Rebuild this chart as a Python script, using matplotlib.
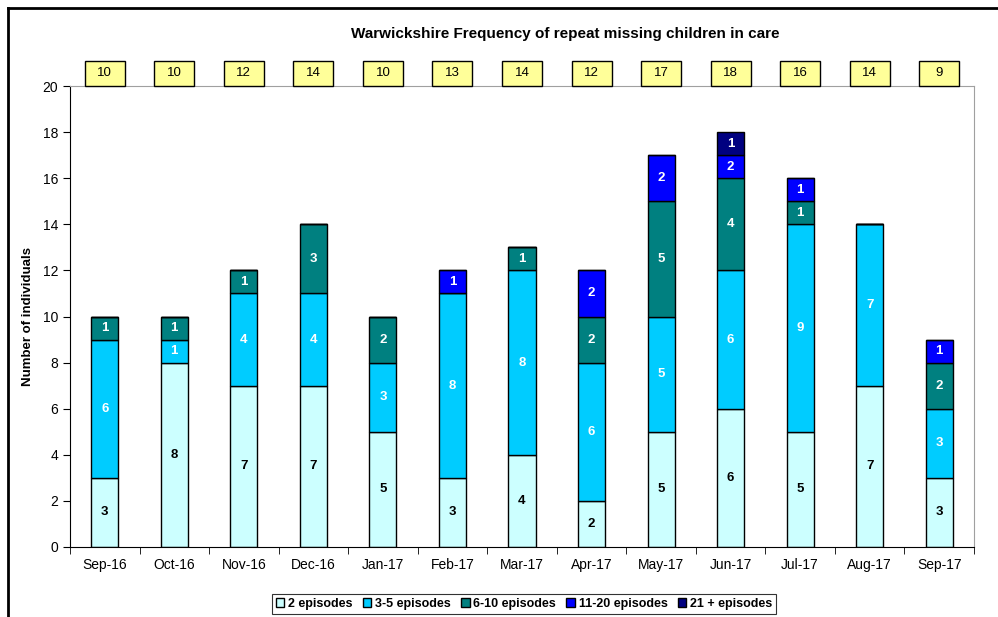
import matplotlib.pyplot as plt
import numpy as np
from matplotlib.patches import Rectangle
from matplotlib.lines import Line2D
import matplotlib.transforms as mtransforms

plt.rcParams['font.family'] = ['Liberation Sans', 'DejaVu Sans']

# data
months = ['Sep-16', 'Oct-16', 'Nov-16', 'Dec-16', 'Jan-17', 'Feb-17', 'Mar-17',
          'Apr-17', 'May-17', 'Jun-17', 'Jul-17', 'Aug-17', 'Sep-17']
ep_2 = [3, 8, 7, 7, 5, 3, 4, 2, 5, 6, 5, 7, 3]
ep_3_5 = [6, 1, 4, 4, 3, 8, 8, 6, 5, 6, 9, 7, 3]
ep_6_10 = [1, 1, 1, 3, 2, 0, 1, 2, 5, 4, 1, 0, 2]
ep_11_20 = [0, 0, 0, 0, 0, 1, 0, 2, 2, 1, 1, 0, 1]
# the source chart labels the Jun-17 11-20 segment "2" although it is drawn 1 high
ep_11_20_labels = [0, 0, 0, 0, 0, 1, 0, 2, 2, 2, 1, 0, 1]
ep_21 = [0, 0, 0, 0, 0, 0, 0, 0, 0, 1, 0, 0, 0]
box_totals = [10, 10, 12, 14, 10, 13, 14, 12, 17, 18, 16, 14, 9]

series = [ep_2, ep_3_5, ep_6_10, ep_11_20, ep_21]
labels = [ep_2, ep_3_5, ep_6_10, ep_11_20_labels, ep_21]
names = ['2 episodes', '3-5 episodes', '6-10 episodes', '11-20 episodes', '21 + episodes']
colors = ['#CCFFFF', '#00CCFF', '#008080', '#0000FF', '#000080']
label_colors = ['black', 'white', 'white', 'white', 'white']

fig = plt.figure(figsize=(9.98, 6.17), dpi=100)
ax = fig.add_axes([70 / 998, 1 - 547 / 617, (974 - 70) / 998, (547 - 86) / 617])

x = np.arange(len(months))
width = 0.39
bottom = np.zeros(len(months))
for vals, labs, name, col, lc in zip(series, labels, names, colors, label_colors):
    vals = np.array(vals)
    ax.bar(x, vals, width, bottom=bottom, color=col, edgecolor='black',
           linewidth=1.0, label=name)
    for xi, v, lab, b in zip(x, vals, labs, bottom):
        if v > 0:
            ax.text(xi, b + v / 2, str(lab), ha='center', va='center',
                    fontsize=9.5, fontweight='bold', color=lc)
    bottom += vals

ax.set_xlim(-0.5, len(months) - 0.5)
ax.set_ylim(0, 20)
ax.set_yticks(range(0, 21, 2))
ax.set_xticks(x)
ax.set_xticklabels(months, fontsize=10)
ax.set_xticks(np.arange(-0.5, len(months), 1), minor=True)
ax.tick_params(axis='x', which='major', length=0, pad=8)
ax.tick_params(axis='x', which='minor', length=5, direction='out')
ax.tick_params(axis='y', labelsize=10, length=5, direction='out')
ax.set_ylabel('Number of individuals', fontsize=9.5, fontweight='bold', labelpad=6)
for s in ['top', 'right']:
    ax.spines[s].set_color('#A0A0A0')
ax.spines['left'].set_color('black')
ax.spines['bottom'].set_color('black')

# yellow total boxes above the plot
trans = mtransforms.blended_transform_factory(ax.transData, ax.transAxes)
bw = 0.575
bh = 25 / 461
for xi, t in zip(x, box_totals):
    ax.add_patch(Rectangle((xi - bw / 2, 1.0), bw, bh, transform=trans,
                           facecolor='#FFFF99', edgecolor='black', linewidth=1.0,
                           clip_on=False, zorder=5))
    ax.text(xi, 1.0 + bh / 2, str(t), transform=trans, ha='center', va='center',
            fontsize=9.5, zorder=6)

fig.text(565 / 998, 1 - 34 / 617, 'Warwickshire Frequency of repeat missing children in care',
         ha='center', va='center', fontsize=11, fontweight='bold')

leg = fig.legend(loc='center', bbox_to_anchor=(524 / 998, 1 - 604 / 617), ncol=5,
                 prop={'weight': 'bold', 'size': 9},
                 handlelength=0.7, handleheight=0.7, handletextpad=0.3,
                 columnspacing=0.8, borderpad=0.3, fancybox=False, frameon=True)
leg.get_frame().set_edgecolor('black')
leg.get_frame().set_linewidth(0.8)

# outer chart border (only top and left visible)
fig.add_artist(Line2D([8 / 998, 1.0], [1 - 8 / 617, 1 - 8 / 617], color='black', linewidth=2))
fig.add_artist(Line2D([8 / 998, 8 / 998], [0, 1 - 8 / 617], color='black', linewidth=2))

fig.savefig('out.png', dpi=100)
